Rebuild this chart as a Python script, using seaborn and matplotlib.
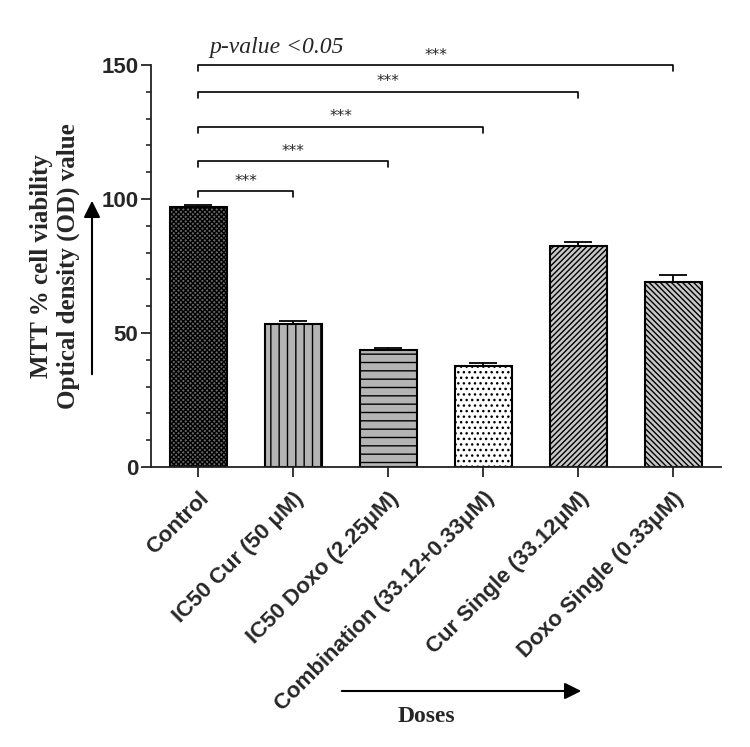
import pandas as pd
import matplotlib.pyplot as plt
import seaborn as sns

# Data
groups = ['Control', 'IC50 Cur (50 μM)', 'IC50 Doxo (2.25μM)',
          'Combination (33.12+0.33μM)', 'Cur Single (33.12μM)', 'Doxo Single (0.33μM)']
viability = [97.2, 53.5, 43.8, 37.8, 82.3, 68.9]
sem = [0.4, 0.8, 0.6, 1.1, 1.5, 2.6]

# significance brackets: Control vs each group
bracket_targets = [1, 2, 3, 4, 5]
bracket_heights = [103, 114, 127, 140, 150]
bracket_labels = ['***', '***', '***', '***', '***']

faces = ['#6a6a6a', '#b4b4b4', '#b4b4b4', '#ffffff', '#c8c8c8', '#c8c8c8']
hatches = ['xxxxxxx', '||', '--', '...', '//////', '\\\\\\\\\\\\']

df = pd.DataFrame({'group': groups, 'viability': viability})

sns.set_style('ticks')
plt.rcParams['hatch.linewidth'] = 1.0

fig = plt.figure(figsize=(7.5, 7.47), dpi=100)
ax = fig.add_axes([0.2013, 0.3748, 0.76, 0.5382])

sns.barplot(data=df, x='group', y='viability', width=0.59, color='white',
            edgecolor='black', linewidth=1.5, ax=ax, errorbar=None)
for patch, fc, h in zip(ax.patches, faces, hatches):
    patch.set_facecolor(fc)
    patch.set_hatch(h)

ax.errorbar(range(len(groups)), viability, yerr=[[0] * len(sem), sem],
            fmt='none', ecolor='black', elinewidth=1.3, capsize=10, capthick=1.3)

# brackets
tip = 2.2
for t, h, lab in zip(bracket_targets, bracket_heights, bracket_labels):
    ax.plot([0, 0, t, t], [h - tip, h, h, h - tip], color='black', lw=1.2,
            clip_on=False)
    ax.text(t / 2, h + 0.9, lab, ha='center', va='bottom', fontsize=11,
            family='DejaVu Sans', clip_on=False)

ax.text(0.12, 152.5, 'p-value <0.05', fontsize=17, style='italic',
        family='Liberation Serif', ha='left', va='bottom')

ax.set_ylim(0, 150)
ax.set_xlim(-0.5, 5.5)
ax.set_yticks([0, 50, 100, 150])
ax.set_yticks(range(0, 151, 10), minor=True)
ax.set_yticklabels(['0', '50', '100', '150'], fontsize=16, fontweight='bold',
                   family='Liberation Sans')
ax.set_xticks(range(len(groups)))
ax.set_xticklabels(groups, rotation=45, ha='right', rotation_mode='anchor',
                   fontsize=16, fontweight='bold', family='Liberation Sans')
ax.tick_params(axis='both', which='major', length=7, width=1.3, direction='out')
ax.tick_params(axis='y', which='minor', length=3.6, width=1.2)
ax.tick_params(axis='x', pad=8)
ax.tick_params(axis='y', pad=2)
ax.set_xlabel('')
ax.set_ylabel('')
sns.despine(ax=ax)
for s in ['left', 'bottom']:
    ax.spines[s].set_linewidth(1.3)
    ax.spines[s].set_color('#222222')

# y label with arrow
fig.text(0.073, 1 - 266 / 747, 'MTT % cell viability\nOptical density (OD) value',
         rotation=90, ha='center', va='center', fontsize=18, fontweight='bold',
         family='Liberation Serif', linespacing=1.2)
fig.add_artist(plt.Annotation('', xy=(92 / 750, 1 - 198 / 747),
                              xytext=(92 / 750, 1 - 377 / 747),
                              xycoords='figure fraction',
                              arrowprops=dict(arrowstyle='-|>', color='black',
                                              lw=1.5, mutation_scale=25)))

# x label with arrow
fig.add_artist(plt.Annotation('', xy=(584 / 750, 1 - 691 / 747),
                              xytext=(339 / 750, 1 - 691 / 747),
                              xycoords='figure fraction',
                              arrowprops=dict(arrowstyle='-|>', color='black',
                                              lw=1.5, mutation_scale=25)))
fig.text(426 / 750, 1 - 716 / 747, 'Doses', ha='center', va='center',
         fontsize=17, fontweight='bold', family='Liberation Serif')

plt.savefig('out.png', dpi=100)
